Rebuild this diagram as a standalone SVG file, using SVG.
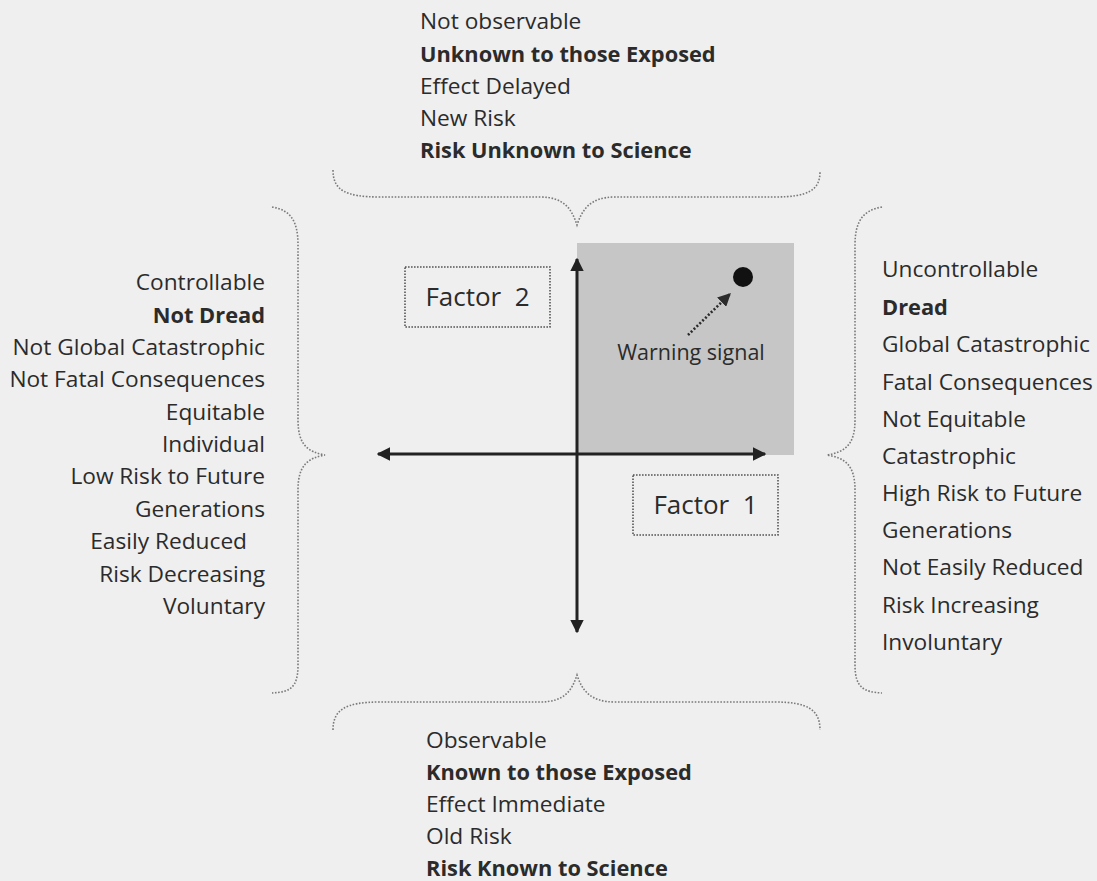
<svg xmlns="http://www.w3.org/2000/svg" width="1097" height="881" viewBox="0 0 1097 881">
  <style>
    .lbl { font-family: "Open Sans", "Liberation Sans", sans-serif; font-size: 22.7px; fill: #2b2b2b; }
    .b { font-weight: bold; font-size: 21.8px; }
    .end { text-anchor: end; }
    .factor { font-family: "Open Sans", "Liberation Sans", sans-serif; font-size: 26px; fill: #2b2b2b; text-anchor: middle; }
    .warn { font-family: "Open Sans", "Liberation Sans", sans-serif; font-size: 21.5px; fill: #2b2b2b; text-anchor: middle; }
    .brace { fill: none; stroke: #7a7a7a; stroke-width: 1.6; stroke-dasharray: 1.6 1.6; }
    .box { fill: none; stroke: #555; stroke-width: 1.6; stroke-dasharray: 1.6 1.4; }
    .axis { stroke: #222; stroke-width: 3; fill: none; }
  </style>
  <defs>
    <marker id="axisHead" viewBox="0 0 10 10" refX="9" refY="5" markerWidth="4.5" markerHeight="4.5" orient="auto-start-reverse" markerUnits="strokeWidth">
      <path d="M0,0 L10,5 L0,10 z" fill="#222"/>
    </marker>
    <marker id="warnHead" viewBox="0 0 10 10" refX="9" refY="5" markerWidth="5" markerHeight="5" orient="auto" markerUnits="strokeWidth">
      <path d="M0,0 L10,5 L0,10 z" fill="#2b2b2b"/>
    </marker>
  </defs>

  <!-- page -->
  <rect x="0" y="0" width="1097" height="881" fill="#efefef"/>

  <!-- shaded quadrant -->
  <g id="quadrant">
    <rect x="577" y="243" width="217" height="212" fill="#c6c6c6"/>
  </g>

  <!-- braces and axes -->
  <g id="connectors">
    <path class="brace" d="M333,170 C333,190 345,197 380,197 L540,197 C565,197 572,210 577,225 C582,210 590,197 615,197 L775,197 C808,197 820,190 820,172"/>
    <path class="brace" d="M333,730 C333,710 345,702 380,702 L540,702 C565,702 572,690 577,675 C582,690 590,702 615,702 L775,702 C808,702 820,710 820,730"/>
    <path class="brace" d="M272,207 C290,210 298,220 298,245 L298,420 C298,445 308,452 325,455 C308,458 298,465 298,490 L298,665 C298,688 290,692 272,693"/>
    <path class="brace" d="M882,207 C864,210 855,220 855,245 L855,420 C855,445 845,452 827,455 C845,458 855,465 855,490 L855,665 C855,688 864,692 882,693"/>
    <line class="axis" x1="378" y1="454" x2="765" y2="454" marker-start="url(#axisHead)" marker-end="url(#axisHead)"/>
    <line class="axis" x1="577" y1="259" x2="577" y2="632" marker-start="url(#axisHead)" marker-end="url(#axisHead)"/>
    <line x1="688" y1="335" x2="730" y2="294" stroke="#2b2b2b" stroke-width="2.6" stroke-dasharray="2 2" marker-end="url(#warnHead)"/>
  </g>

  <g id="top-labels">
    <text class="lbl" x="420" y="29">Not observable</text>
    <text class="lbl b" x="420" y="61.5">Unknown to those Exposed</text>
    <text class="lbl" x="420" y="94">Effect Delayed</text>
    <text class="lbl" x="420" y="126">New Risk</text>
    <text class="lbl b" x="420" y="158">Risk Unknown to Science</text>
  </g>

  <g id="bottom-labels">
    <text class="lbl" x="426" y="748">Observable</text>
    <text class="lbl b" x="426" y="780">Known to those Exposed</text>
    <text class="lbl" x="426" y="812">Effect Immediate</text>
    <text class="lbl" x="426" y="844">Old Risk</text>
    <text class="lbl b" x="426" y="876">Risk Known to Science</text>
  </g>

  <g id="left-labels">
    <text class="lbl end" x="265" y="290">Controllable</text>
    <text class="lbl b end" x="265" y="322.5">Not Dread</text>
    <text class="lbl end" x="265" y="355">Not Global Catastrophic</text>
    <text class="lbl end" x="265" y="387">Not Fatal Consequences</text>
    <text class="lbl end" x="265" y="420">Equitable</text>
    <text class="lbl end" x="265" y="452">Individual</text>
    <text class="lbl end" x="265" y="484">Low Risk to Future</text>
    <text class="lbl end" x="265" y="517">Generations</text>
    <text class="lbl end" x="247" y="549">Easily Reduced</text>
    <text class="lbl end" x="265" y="582">Risk Decreasing</text>
    <text class="lbl end" x="265" y="614">Voluntary</text>
  </g>

  <g id="right-labels">
    <text class="lbl" x="882" y="277">Uncontrollable</text>
    <text class="lbl b" x="882" y="315">Dread</text>
    <text class="lbl" x="882" y="352">Global Catastrophic</text>
    <text class="lbl" x="882" y="390">Fatal Consequences</text>
    <text class="lbl" x="882" y="427">Not Equitable</text>
    <text class="lbl" x="882" y="464">Catastrophic</text>
    <text class="lbl" x="882" y="501">High Risk to Future</text>
    <text class="lbl" x="882" y="538">Generations</text>
    <text class="lbl" x="882" y="575">Not Easily Reduced</text>
    <text class="lbl" x="882" y="613">Risk Increasing</text>
    <text class="lbl" x="882" y="650">Involuntary</text>
  </g>

  <g id="factor-2">
    <rect class="box" x="405" y="267" width="145" height="60"/>
    <text class="factor" x="477.5" y="306" xml:space="preserve">Factor  2</text>
  </g>

  <g id="factor-1">
    <rect class="box" x="633" y="475" width="145" height="60"/>
    <text class="factor" x="705.5" y="514" xml:space="preserve">Factor  1</text>
  </g>

  <g id="warning-signal">
    <circle cx="743" cy="277" r="10" fill="#111"/>
    <text class="warn" x="691" y="360">Warning signal</text>
  </g>
</svg>
